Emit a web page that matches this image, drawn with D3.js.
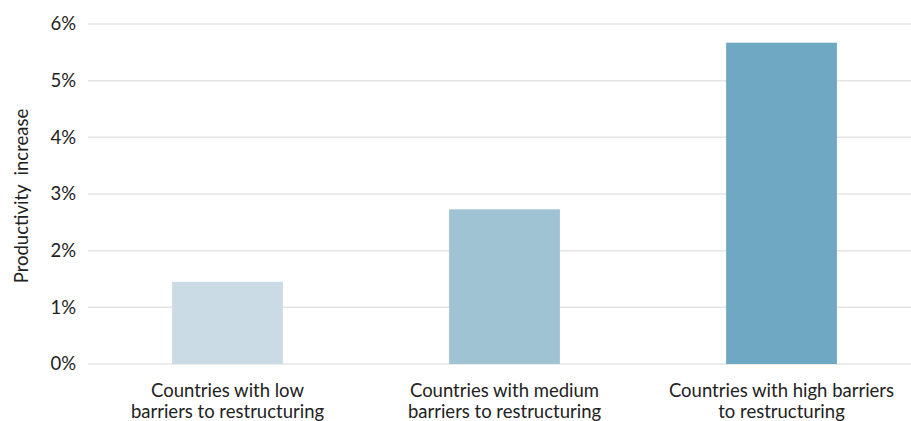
<!DOCTYPE html>
<html><head><meta charset="utf-8">
<script src="https://cdn.jsdelivr.net/npm/d3@7"></script>
<style>body{margin:0;background:#fff;} text{font-family:"Lato","Open Sans",sans-serif;fill:#222;}</style>
</head><body><svg id="c" width="911" height="421"></svg>
<script>
const categories = [["Countries with low","barriers to restructuring"],["Countries with medium","barriers to restructuring"],["Countries with high barriers","to restructuring"]];
const values = [1.45, 2.73, 5.67];
const colors = ["#cbdbe6", "#a0c3d4", "#6ea8c3"];
const yTicks = [0,1,2,3,4,5,6];
const yTitle = "Productivity  increase";

const svg = d3.select("#c");
const x = d3.scaleBand().domain(d3.range(values.length)).range([89, 920]).paddingInner(0.6).paddingOuter(0.3);
const y = d3.scaleLinear().domain([0, 6]).range([364, 24]);

svg.append("g").selectAll("line").data(yTicks).join("line")
  .attr("x1", 88).attr("x2", 911).attr("y1", d => y(d)).attr("y2", d => y(d))
  .attr("stroke", "#e4e4e4").attr("stroke-width", 1.5);

svg.append("g").selectAll("text").data(yTicks).join("text")
  .attr("x", 76).attr("y", d => y(d)).attr("dy", "0.35em").attr("text-anchor", "end")
  .attr("font-size", 18.5).text(d => d + "%");

svg.append("text").attr("transform", "translate(28,196) rotate(-90)").attr("text-anchor", "middle")
  .attr("font-size", 18.5).style("white-space","pre").text(yTitle);

svg.append("g").selectAll("rect").data(values).join("rect")
  .attr("x", (d, i) => x(i)).attr("width", x.bandwidth())
  .attr("y", d => y(d)).attr("height", d => y(0) - y(d))
  .attr("fill", (d, i) => colors[i]);

const lab = svg.append("g").selectAll("text").data(categories).join("text")
  .attr("text-anchor", "middle").attr("font-size", 18.5);
lab.each(function(lines, i) {
  d3.select(this).selectAll("tspan").data(lines).join("tspan")
    .attr("x", x(i) + x.bandwidth() / 2).attr("y", (d, j) => 397 + j * 20.5).text(d => d);
});
</script></body></html>
